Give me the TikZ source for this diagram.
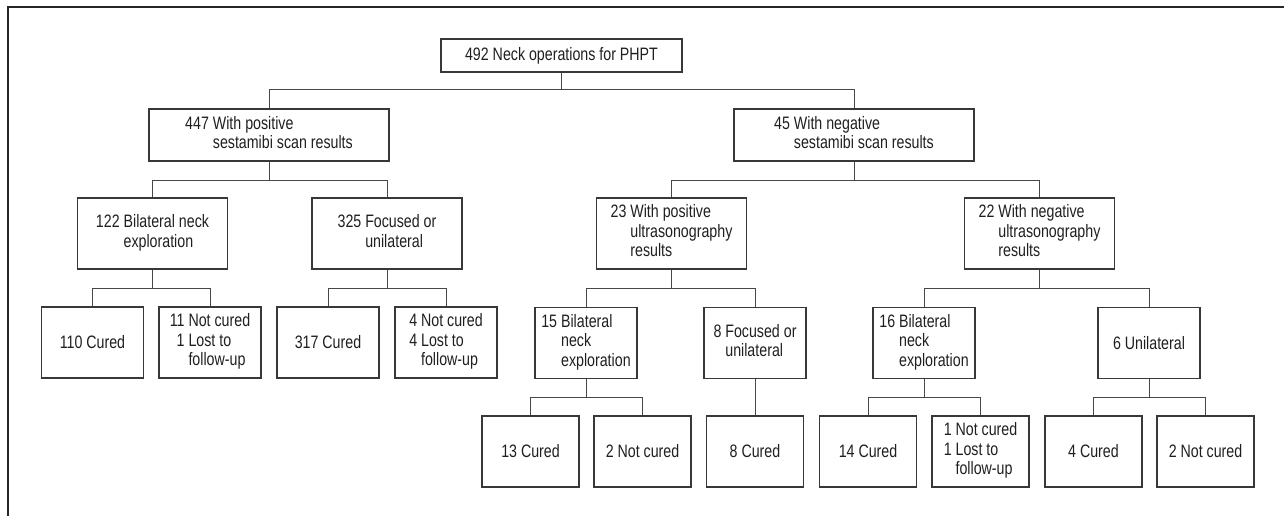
\documentclass[tikz,border=0pt]{standalone}
\usepackage{fontspec}
\setmainfont{Liberation Sans}[FakeStretch=0.79]
\newcommand\mytab[1]{\begin{tabular}{@{}r@{\ }l@{}}#1\end{tabular}}
\begin{document}
\begin{tikzpicture}[x=1pt,y=-1pt,
  box/.style={draw=black!78,line width=1.2pt,rectangle,inner sep=0pt,align=center,
    text=black!88,font=\fontsize{18}{19.5}\selectfont},
  wA/.style={minimum width=240pt,minimum height=52pt},
  wB/.style={minimum width=150pt,minimum height=71pt},
  wC/.style={minimum width=102pt,minimum height=71pt},
  wD/.style={minimum width=97pt,minimum height=71pt},
  conn/.style={draw=black!72,line width=1pt}]
\useasboundingbox (0,0) rectangle (1284,516);
\draw[line width=2pt,black!85] (8,516) -- (8,7) -- (1284,7);
% bus levels
\coordinate (busA) at (0,90);
\coordinate (busB) at (0,180);
\coordinate (busC) at (0,288);
\coordinate (busD) at (0,397);
% level 1
\node[box,minimum width=241pt,minimum height=33pt] (top) at (561.5,55.5) {492 Neck operations for PHPT};
% level 2
\node[box,wA] (pos) at (269,135) {\mytab{447 & With positive\\ & sestamibi scan results}};
\node[box,wA] (neg) at (854,135) {\mytab{45 & With negative\\ & sestamibi scan results}};
% level 3
\node[box,wB] (b122) at (152.5,233.5) {\mytab{122 & Bilateral neck\\ & exploration}};
\node[box,wB] (f325) at (387,233.5) {\mytab{325 & Focused or\\ & unilateral}};
\node[box,wB] (p23) at (671.5,233.5) {\mytab{23 & With positive\\ & ultrasonography\\ & results}};
\node[box,wB] (n22) at (1039.5,233.5) {\mytab{22 & With negative\\ & ultrasonography\\ & results}};
% level 4
\node[box,wC] (c110) at (92.5,342.5) {110 Cured};
\node[box,wC] (nc11) at (210,342.5) {\mytab{11 & Not cured\\ 1 & Lost to\\ & follow-up}};
\node[box,wC] (c317) at (328,342.5) {317 Cured};
\node[box,wC] (nc4) at (446,342.5) {\mytab{4 & Not cured\\ 4 & Lost to\\ & follow-up}};
\node[box,wC] (b15) at (586,343) {\mytab{15 & Bilateral\\ & neck\\ & exploration}};
\node[box,wC] (f8) at (755,343) {\mytab{8 & Focused or\\ & unilateral}};
\node[box,wC] (b16) at (924,343) {\mytab{16 & Bilateral\\ & neck\\ & exploration}};
\node[box,wC] (u6) at (1149,343) {6 Unilateral};
% level 5
\node[box,wD] (c13) at (530.5,451.5) {13 Cured};
\node[box,wD] (nc2a) at (642.5,451.5) {2 Not cured};
\node[box,wD] (c8) at (755,451.5) {8 Cured};
\node[box,wD] (c14) at (868,451.5) {14 Cured};
\node[box,wD] (nc1) at (980.5,451.5) {\mytab{1 & Not cured\\ 1 & Lost to\\ & follow-up}};
\node[box,wD] (c4) at (1093.5,451.5) {4 Cured};
\node[box,wD] (nc2b) at (1205.5,451.5) {2 Not cured};
% connectors
\draw[conn] (top.south) -- (top.south |- busA);
\draw[conn] (pos.north) |- (neg.north |- busA) -- (neg.north);
\draw[conn] (pos.south) -- (pos.south |- busB);
\draw[conn] (b122.north) |- (f325.north |- busB) -- (f325.north);
\draw[conn] (neg.south) -- (neg.south |- busB);
\draw[conn] (p23.north) |- (n22.north |- busB) -- (n22.north);
\draw[conn] (b122.south) -- (b122.south |- busC);
\draw[conn] (c110.north) |- (nc11.north |- busC) -- (nc11.north);
\draw[conn] (f325.south) -- (f325.south |- busC);
\draw[conn] (c317.north) |- (nc4.north |- busC) -- (nc4.north);
\draw[conn] (p23.south) -- (p23.south |- busC);
\draw[conn] (b15.north) |- (f8.north |- busC) -- (f8.north);
\draw[conn] (n22.south) -- (n22.south |- busC);
\draw[conn] (b16.north) |- (u6.north |- busC) -- (u6.north);
\draw[conn] (b15.south) -- (b15.south |- busD);
\draw[conn] (c13.north) |- (nc2a.north |- busD) -- (nc2a.north);
\draw[conn] (f8.south) -- (c8.north);
\draw[conn] (b16.south) -- (b16.south |- busD);
\draw[conn] (c14.north) |- (nc1.north |- busD) -- (nc1.north);
\draw[conn] (u6.south) -- (u6.south |- busD);
\draw[conn] (c4.north) |- (nc2b.north |- busD) -- (nc2b.north);
\end{tikzpicture}
\end{document}
